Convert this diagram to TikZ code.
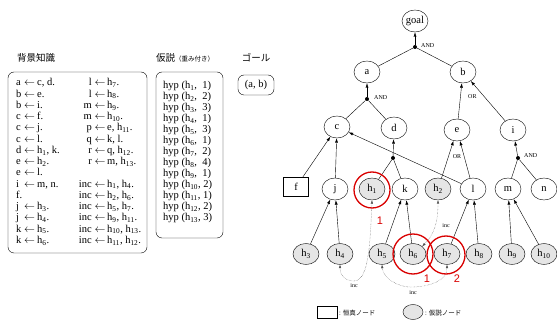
\documentclass[tikz,border=0pt]{standalone}
\usepackage{fontspec}
\setmainfont{Liberation Serif}
\newfontfamily\jpfont{Noto Sans CJK JP}
\newfontfamily\numfont{Liberation Sans}
\usetikzlibrary{arrows.meta,shapes.geometric}
\tikzset{
  gnode/.style={ellipse, draw, minimum width=26pt, minimum height=22pt, inner sep=0pt, font=\fontsize{10.5}{10.5}\selectfont},
  hypnode/.style={gnode, fill=gray!20},
  jdot/.style={circle, fill=black, inner sep=0pt, minimum size=4pt},
  arr/.style={-{Latex[length=4.5pt,width=3pt]}, thin},
  incline/.style={densely dotted, {Latex[length=3.5pt,width=2.5pt]}-{Latex[length=3.5pt,width=2.5pt]}, black!70, thin},
  redc/.style={circle, draw=red!85!black, line width=1.3pt, inner sep=0pt},
  redtag/.style={text=red!85!black, font=\numfont\fontsize{11}{11}\selectfont},
  tag/.style={font=\fontsize{6}{6}\selectfont, inner sep=1pt},
  kbtext/.style={font=\fontsize{10.5}{11}\selectfont, inner sep=0pt},
  panel/.style={draw, rounded corners=6pt, thin},
  jptitle/.style={font=\jpfont\fontsize{9.5}{10}\selectfont, inner sep=0pt}
}
\begin{document}
\begin{tikzpicture}[x=1pt,y=-1pt]
\useasboundingbox (0,0) rectangle (557,320);

% ---------- left panels ----------
\node[jptitle] (t1) at (36,58) {背景知識};
\node[jptitle, anchor=west] (t2) at (156,58) {仮説\fontsize{6.5}{7}\selectfont（重み付き）};
\node[jptitle] (t3) at (256,58) {ゴール};

\draw[panel] (8,72) rectangle (147,253);
\draw[panel] (156,72) rectangle (223,238);
\draw[panel] (238,75) rectangle (274,95);
\node[kbtext] (goalab) at (256,85) {(a, b)};

% knowledge base, left column
\foreach \i/\hd/\bd in {0/a/{c, d.}, 1/b/{e.}, 2/b/{i.}, 3/c/{f.}, 4/c/{j.}, 5/c/{l.},
  6/d/{h\textsubscript{1}, k.}, 7/e/{h\textsubscript{2}.}, 8/e/{l.}, 9/i/{m, n.},
  11/j/{h\textsubscript{3}.}, 12/j/{h\textsubscript{4}.}, 13/k/{h\textsubscript{5}.}, 14/k/{h\textsubscript{6}.}}{
  \node[kbtext, anchor=base west] (kh\i) at (16,{86+11.25*\i}) {\hd};
  \node[kbtext, anchor=base] (ka\i) at (29.5,{86+11.25*\i}) {$\leftarrow$};
  \node[kbtext, anchor=base west] (kb\i) at (37,{86+11.25*\i}) {\bd};
}
\node[kbtext, anchor=base west] (kh10) at (16,{86+11.25*10}) {f.};
% knowledge base, right column
\foreach \i/\hd/\bd in {0/l/{h\textsubscript{7}.}, 1/l/{h\textsubscript{8}.}, 2/m/{h\textsubscript{9}.}, 3/m/{h\textsubscript{10}.},
  4/p/{e, h\textsubscript{11}.}, 5/q/{k, l.}, 6/r/{q, h\textsubscript{12}.}, 7/r/{m, h\textsubscript{13}.},
  9/inc/{h\textsubscript{1}, h\textsubscript{4}.}, 10/inc/{h\textsubscript{2}, h\textsubscript{6}.}, 11/inc/{h\textsubscript{5}, h\textsubscript{7}.},
  12/inc/{h\textsubscript{9}, h\textsubscript{11}.}, 13/inc/{h\textsubscript{10}, h\textsubscript{13}.}, 14/inc/{h\textsubscript{11}, h\textsubscript{12}.}}{
  \node[kbtext, anchor=base east] (rh\i) at (92,{86+11.25*\i}) {\hd};
  \node[kbtext, anchor=base] (ra\i) at (100,{86+11.25*\i}) {$\leftarrow$};
  \node[kbtext, anchor=base west] (rb\i) at (107,{86+11.25*\i}) {\bd};
}
% hypotheses
\foreach \i/\n/\w in {0/1/1, 1/2/2, 2/3/3, 3/4/1, 4/5/3, 5/6/1, 6/7/2, 7/8/4, 8/9/1}{
  \node[kbtext, anchor=base west] (hy\i) at (163,{89+11*\i}) {hyp (h\textsubscript{\n},\ \ \w)};
}
\foreach \i/\n/\w in {9/10/2, 10/11/1, 11/12/2, 12/13/3}{
  \node[kbtext, anchor=base west] (hy\i) at (163,{89+11*\i}) {hyp (h\textsubscript{\n}, \w)};
}

% ---------- graph ----------
\node[gnode] (goal) at (415,21) {goal};
\node[gnode] (a) at (367,72) {a};
\node[gnode] (b) at (463,72) {b};
\node[gnode] (c) at (337,127) {c};
\node[gnode] (d) at (394,128) {d};
\node[gnode] (e) at (457,130) {e};
\node[gnode] (i) at (513,130) {i};
\node[draw, minimum width=25pt, minimum height=19pt, inner sep=0pt, font=\fontsize{10.5}{10.5}\selectfont] (f) at (296,187) {f};
\node[gnode] (j) at (335,189) {j};
\node[hypnode] (h1) at (372,189) {h\textsubscript{1}};
\node[gnode] (k) at (405,189) {k};
\node[hypnode] (h2) at (438,189) {h\textsubscript{2}};
\node[gnode] (l) at (473,189) {l};
\node[gnode] (m) at (508,189) {m};
\node[gnode] (n) at (544,189) {n};
\foreach \nm/\x/\s in {h3/306/3, h4/340/4, h5/382/5, h6/413/6, h7/447/7, h8/479/8, h9/512/9, h10/544/10}{
  \node[hypnode, minimum height=21pt] (\nm) at (\x,254) {h\textsubscript{\s}};
}

\node[jdot] (dg) at (415,47) {};
\node[jdot] (da) at (367,99) {};
\node[jdot] (dd) at (393,158) {};
\node[jdot] (di) at (518,158) {};

\node[tag, anchor=west] (lg) at (420,46) {AND};
\node[tag, anchor=west] (la) at (373,98) {AND};
\node[tag, anchor=west] (lb) at (467,97) {OR};
\node[tag] (le) at (457,157) {OR};
\node[tag, anchor=west] (li) at (523,156) {AND};

\draw[arr] (dg) -- (goal);
\draw (a) -- (dg);
\draw (b) -- (dg);
\draw[arr] (da) -- (a);
\draw (c) -- (da);
\draw (d) -- (da);
\draw[arr] (e) -- (b);
\draw[arr] (i) -- (b);
\draw[arr] (f) -- (c);
\draw[arr] (j) -- (c);
\draw[arr] (l) -- (c);
\draw[arr] (dd) -- (d);
\draw (h1) -- (dd);
\draw (k) -- (dd);
\draw[arr] (h2) -- (e);
\draw[arr] (l) -- (e);
\draw[arr] (di) -- (i);
\draw (m) -- (di);
\draw (n) -- (di);
\draw[arr] (h3) -- (j);
\draw[arr] (h4) -- (j);
\draw[arr] (h5) -- (k);
\draw[arr] (h6) -- (k);
\draw[arr] (h7) -- (l);
\draw[arr] (h8) -- (l);
\draw[arr] (h9) -- (m);
\draw[arr] (h10) -- (m);

% inc links
\draw[incline] (h1.south) .. controls (370,250) and (368,282) .. (353,281) .. controls (343,280) and (340,274) .. (h4.south);
\node[tag] (inc1) at (354,286) {inc};
\draw[incline] (h5.south) .. controls (383,278) and (398,288) .. (414,287) .. controls (432,286) and (447,280) .. (h7.south);
\node[tag] (inc2) at (413,293) {inc};
\draw[incline] (h6.40) .. controls (434,235) and (438,222) .. (h2.south);
\node[tag] (inc3) at (446,226) {inc};

% red marks
\node[redc, minimum size=36pt] (r1) at (372,190) {};
\node[redc, minimum size=40pt] (r6) at (413,254) {};
\node[redc, minimum size=38pt] (r7) at (446,255) {};
\node[redtag] (n1) at (380,221) {1};
\node[redtag] (n2) at (427,279) {1};
\node[redtag] (n3) at (457,279) {2};

% legend
\node[draw, minimum width=20pt, minimum height=12pt, inner sep=0pt] (legbox) at (327,312) {};
\node[jptitle, font=\jpfont\fontsize{6.5}{7}\selectfont, anchor=west] (legt1) at (339,313) {: 恒真ノード};
\node[ellipse, draw, fill=gray!20, minimum width=20pt, minimum height=15pt, inner sep=0pt] (legell) at (413,312) {};
\node[jptitle, font=\jpfont\fontsize{6.5}{7}\selectfont, anchor=west] (legt2) at (425,313) {: 仮説ノード};
\end{tikzpicture}
\end{document}
